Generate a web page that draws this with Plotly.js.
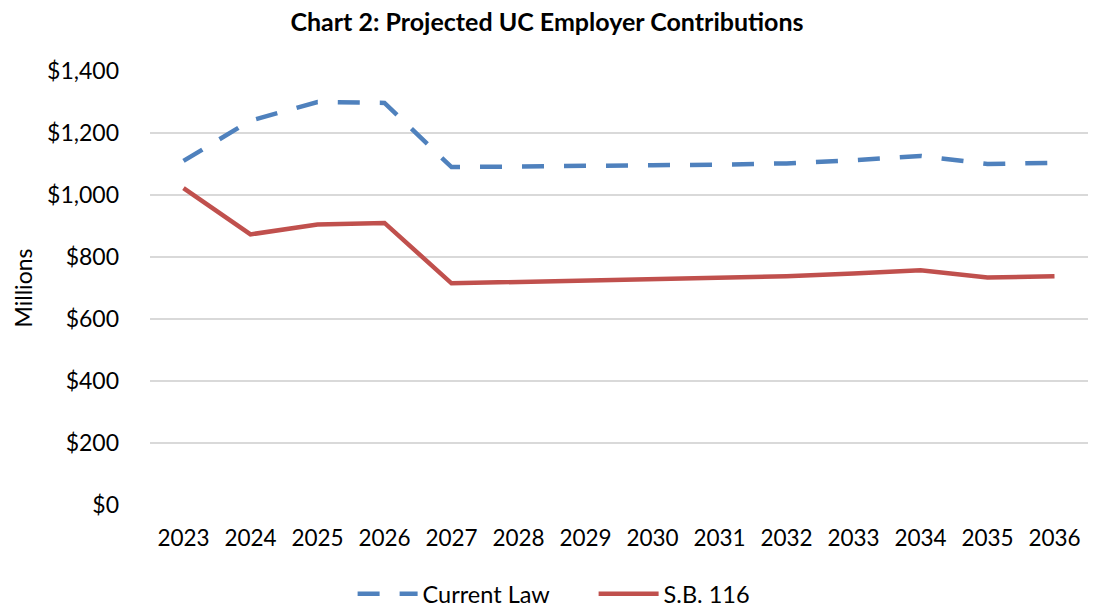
<!DOCTYPE html>
<html>
<head>
<meta charset="utf-8">
<script src="https://cdn.plot.ly/plotly-3.0.1.min.js"></script>
<style>html,body{margin:0;padding:0;background:#fff}#chart{width:1094px;height:607px}</style>
</head>
<body>
<div id="chart"></div>
<script>
const years = ["2023","2024","2025","2026","2027","2028","2029","2030","2031","2032","2033","2034","2035","2036"];
const currentLaw = [1110, 1240, 1300, 1297, 1090, 1093, 1095, 1096, 1098, 1102, 1112, 1126, 1100, 1104];
const sb116 = [1022, 873, 905, 910, 715, 719, 723, 727, 731, 738, 747, 757, 734, 738];

const FONT = "Lato, 'Open Sans', sans-serif";

const traces = [
  {x: years, y: currentLaw, name: "Current Law", type: "scatter", mode: "lines",
   line: {color: "#4f81bd", width: 4.5, dash: "22px,20px"}},
  {x: years, y: sb116, name: "S.B. 116", type: "scatter", mode: "lines",
   line: {color: "#c0504d", width: 4.5}}
];

const layout = {
  width: 1094, height: 607,
  margin: {l: 150, r: 6, t: 71, b: 102, autoexpand: false},
  paper_bgcolor: "#fff", plot_bgcolor: "#fff",
  font: {family: FONT, color: "#000", size: 23},
  title: {text: "<b>Chart 2: Projected UC Employer Contributions</b>", x: 0.5, xanchor: "center",
          xref: "container", y: 0.963, yanchor: "middle", font: {family: FONT, size: 25, color: "#000"}},
  xaxis: {type: "category", range: [-0.5, 13.5], showgrid: false, showline: false, zeroline: false,
          automargin: false, ticks: "", tickfont: {size: 22.5, family: FONT}, ticklabelstandoff: 17, tickangle: 0},
  yaxis: {range: [0, 1400], dtick: 200, tickprefix: "$", tickformat: ",", automargin: false,
          showgrid: true, gridcolor: "#d9d9d9", gridwidth: 1.5, zeroline: false,
          showline: false, ticks: "", tickfont: {size: 23, family: FONT}, ticklabelstandoff: 30,
          title: {text: "Millions", font: {size: 23, family: FONT}, standoff: 8}},
  showlegend: true,
  legend: {orientation: "h", x: 0.216, xanchor: "left", y: -0.205, yanchor: "middle",
           font: {size: 23.5, family: FONT}, itemwidth: 60, entrywidth: 166, entrywidthmode: "pixels",
           traceorder: "normal"}
};

Plotly.newPlot("chart", traces, layout, {displayModeBar: false, staticPlot: true});
</script>
</body>
</html>
